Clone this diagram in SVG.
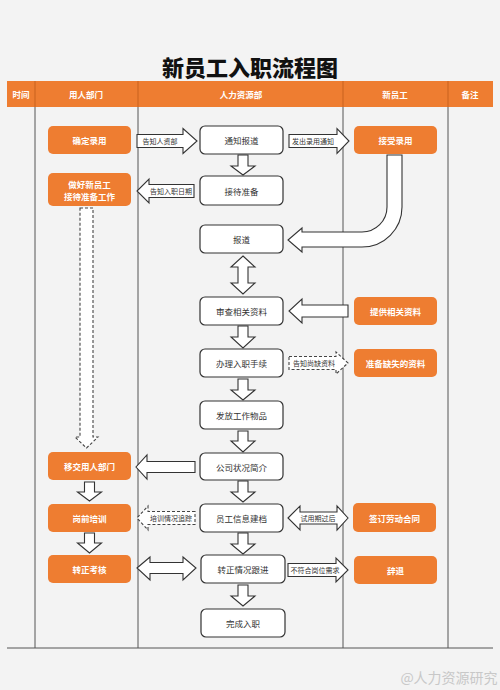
<svg xmlns="http://www.w3.org/2000/svg" width="500" height="690" viewBox="0 0 500 690">
<defs>
<style>
text{font-family:"Noto Sans CJK SC","Noto Sans",sans-serif;text-anchor:middle;dominant-baseline:central}
.title{font-size:22px;font-weight:900;fill:#111}
.hd{font-size:8.5px;fill:#fff;font-weight:bold}
.ob rect{fill:#ee7d31}
.ob text{fill:#fff;font-size:8.5px;font-weight:bold}
.wb rect{fill:#fff;stroke:#333;stroke-width:1.2}
.wb text{fill:#333;font-size:8.5px}
.lane{stroke:#555;stroke-width:1}
.ar{fill:#fff;stroke:#333;stroke-width:1.1;stroke-linejoin:miter}
.da{fill:#fff;stroke:#444;stroke-width:1.1;stroke-dasharray:3 2}
.lbl{font-size:7px;fill:#333}
</style>
</defs>
<rect x="0" y="0" width="500" height="690" fill="#f3f3f3"/>
<text class="title" x="250" y="66">新员工入职流程图</text>
<g id="header">
<rect x="7" y="81" width="486" height="26" fill="#ee7d31"/>
<g stroke="#c8621e" stroke-width="1">
<line x1="35" y1="81" x2="35" y2="107"/><line x1="138" y1="81" x2="138" y2="107"/>
<line x1="343" y1="81" x2="343" y2="107"/><line x1="448" y1="81" x2="448" y2="107"/>
</g>
<text class="hd" x="21" y="94">时间</text>
<text class="hd" x="86" y="94">用人部门</text>
<text class="hd" x="241" y="94">人力资源部</text>
<text class="hd" x="395" y="94">新员工</text>
<text class="hd" x="470" y="94">备注</text>
</g>
<g id="lanes" class="lane">
<line x1="35" y1="107" x2="35" y2="648"/><line x1="138" y1="107" x2="138" y2="648"/>
<line x1="343" y1="107" x2="343" y2="648"/><line x1="448" y1="107" x2="448" y2="648"/>
<line x1="7" y1="648" x2="493" y2="648"/>
</g>
<g id="connectors">
<path class="ar" d="M238 155H248V166H255L243 175L231 166H238Z"/>
<path class="ar" d="M243 256L255 267H248V283H255L243 294L231 283H238V267H231Z"/>
<path class="ar" d="M238 326H248V337H255L243 348L231 337H238Z"/>
<path class="ar" d="M238 379H248V390H255L243 400L231 390H238Z"/>
<path class="ar" d="M238 431H248V441H255L243 452L231 441H238Z"/>
<path class="ar" d="M238 481H248V492H255L243 502L231 492H238Z"/>
<path class="ar" d="M238 533H248V544H255L243 554L231 544H238Z"/>
<path class="ar" d="M238 585H248V596H255L243 606L231 596H238Z"/>
<path class="ar" d="M84.5 482H94.5V492H101.5L89.5 501L77.5 492H84.5Z"/>
<path class="ar" d="M84.5 533H94.5V543H101.5L89.5 553L77.5 543H84.5Z"/>
<path class="ar" d="M137 134.5H183V128.5L197 141L183 153.5V147.5H137Z"/>
<path class="ar" d="M194 184.5H149V179L137 191L149 203V197.5H194Z"/>
<path class="ar" d="M289 134.5H337V128.5L349 141L337 153.5V147.5H289Z"/>
<path class="ar" d="M387 155V207A25 25 0 0 1 362 232H302V228L288 240L302 252V247H362A40 40 0 0 0 402 207V155Z"/>
<path class="ar" d="M348 305H302V299L289 311L302 323V317H348Z"/>
<path class="da" d="M289 356.5H336V352L348 363L336 374V369.5H289Z"/>
<path class="ar" d="M195 461.5H147V455L136 467L147 479V472.5H195Z"/>
<path class="da" d="M195 511.5H148V506L137 518L148 530V524.5H195Z"/>
<path class="ar" d="M288 518L300 506V512H337V506L348 518L337 530V524H300V530Z"/>
<path class="ar" d="M137 568L150 557V562.5H183V557L196 568L183 580V573.5H150V580Z"/>
<path class="ar" d="M288 563.5H336V558L348 570L336 582V576.5H288Z"/>
<path class="da" d="M80 208H93V437H98L86.5 448L75 437H80Z"/>
<text class="lbl" x="160" y="141">告知人资部</text>
<text class="lbl" x="171" y="191">告知入职日期</text>
<text class="lbl" x="313" y="141">发出录用通知</text>
<text class="lbl" x="314" y="363">告知尚缺资料</text>
<text class="lbl" x="171" y="518">培训情况追踪</text>
<text class="lbl" x="318" y="518">试用期过后</text>
<text class="lbl" x="315" y="570">不符合岗位需求</text>
</g>
<g id="n1" class="ob"><rect x="48" y="126" width="83" height="28" rx="5"/><text x="89.5" y="140">确定录用</text></g>
<g id="n2" class="ob"><rect x="48" y="173" width="83" height="33" rx="5"/><text x="89.5" y="184">做好新员工</text><text x="89.5" y="196">接待准备工作</text></g>
<g id="n3" class="ob"><rect x="48" y="452" width="83" height="28" rx="5"/><text x="89.5" y="466">移交用人部门</text></g>
<g id="n4" class="ob"><rect x="48" y="504" width="83" height="28" rx="5"/><text x="89.5" y="518">岗前培训</text></g>
<g id="n5" class="ob"><rect x="48" y="555" width="83" height="28" rx="5"/><text x="89.5" y="569">转正考核</text></g>
<g id="m1" class="wb"><rect x="200" y="126" width="83" height="28" rx="5"/><text x="241.5" y="140">通知报道</text></g>
<g id="m2" class="wb"><rect x="200" y="176" width="83" height="29" rx="5"/><text x="241.5" y="190.5">接待准备</text></g>
<g id="m3" class="wb"><rect x="200" y="225" width="83" height="28" rx="5"/><text x="241.5" y="239">报道</text></g>
<g id="m4" class="wb"><rect x="200" y="297" width="83" height="28" rx="5"/><text x="241.5" y="311">审查相关资料</text></g>
<g id="m5" class="wb"><rect x="200" y="349" width="83" height="28" rx="5"/><text x="241.5" y="363">办理入职手续</text></g>
<g id="m6" class="wb"><rect x="200" y="401" width="83" height="28" rx="5"/><text x="241.5" y="415">发放工作物品</text></g>
<g id="m7" class="wb"><rect x="200" y="453" width="83" height="27" rx="5"/><text x="241.5" y="466.5">公司状况简介</text></g>
<g id="m8" class="wb"><rect x="200" y="504" width="83" height="28" rx="5"/><text x="241.5" y="518">员工信息建档</text></g>
<g id="m9" class="wb"><rect x="201" y="555" width="84" height="28" rx="5"/><text x="243" y="569">转正情况跟进</text></g>
<g id="m10" class="wb"><rect x="201" y="609" width="84" height="28" rx="5"/><text x="243" y="623">完成入职</text></g>
<g id="r1" class="ob"><rect x="354" y="126" width="83" height="28" rx="5"/><text x="395.5" y="140">接受录用</text></g>
<g id="r2" class="ob"><rect x="354" y="297" width="83" height="28" rx="5"/><text x="395.5" y="311">提供相关资料</text></g>
<g id="r3" class="ob"><rect x="354" y="349" width="83" height="28" rx="5"/><text x="395.5" y="363">准备缺失的资料</text></g>
<g id="r4" class="ob"><rect x="353" y="503" width="83" height="29" rx="5"/><text x="394.5" y="517.5">签订劳动合同</text></g>
<g id="r5" class="ob"><rect x="354" y="556" width="83" height="28" rx="5"/><text x="395.5" y="570">辞退</text></g>
<text x="449" y="677" style="font-size:14px;fill:#c8c8c8">@人力资源研究</text>
</svg>
